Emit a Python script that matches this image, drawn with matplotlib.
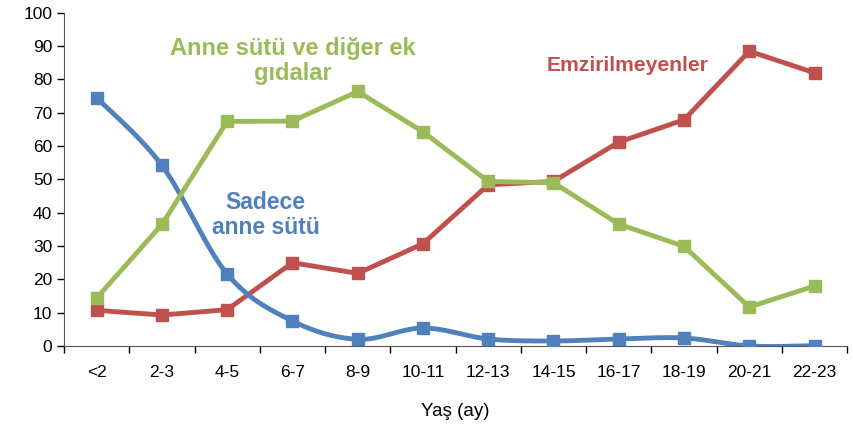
import numpy as np
import matplotlib.pyplot as plt

kategoriler = ['<2', '2-3', '4-5', '6-7', '8-9', '10-11', '12-13', '14-15',
               '16-17', '18-19', '20-21', '22-23']
sadece_anne_sutu = [74.5, 54.2, 21.6, 7.5, 2.0, 5.4, 2.1, 1.5, 2.1, 2.4, 0.0, 0.1]
anne_sutu_ek = [14.4, 36.5, 67.4, 67.5, 76.4, 64.3, 49.4, 49.0, 36.6, 29.9, 11.7, 18.0]
emzirilmeyen = [10.7, 9.3, 10.9, 25.0, 21.8, 30.7, 48.4, 49.4, 61.2, 67.9, 88.5, 82.0]

mavi = '#4F81BD'
yesil = '#9BBB59'
kirmizi = '#C0504D'


def yumusat(x, y, n=30):
    # Excel benzeri pürüzsüz çizgi (Catmull-Rom)
    x = np.asarray(x, float)
    y = np.asarray(y, float)
    px = np.concatenate([[x[0]], x, [x[-1]]])
    py = np.concatenate([[y[0]], y, [y[-1]]])
    xs, ys = [], []
    for i in range(1, len(px) - 2):
        t = np.linspace(0, 1, n)
        p0, p1, p2, p3 = (np.array([px[j], py[j]]) for j in range(i - 1, i + 3))
        c1 = p1 + (p2 - p0) / 6
        c2 = p2 - (p3 - p1) / 6
        pts = ((1 - t) ** 3)[:, None] * p1 + (3 * (1 - t) ** 2 * t)[:, None] * c1 \
            + (3 * (1 - t) * t ** 2)[:, None] * c2 + (t ** 3)[:, None] * p2
        xs.extend(pts[:, 0])
        ys.extend(pts[:, 1])
    return np.array(xs), np.array(ys)


fig = plt.figure(figsize=(8.54, 4.29), dpi=100)
ax = fig.add_axes([0.075, 0.1935, 0.917, 0.7765])

x = np.arange(len(kategoriler))

sx, sy = yumusat(x, sadece_anne_sutu)
ax.plot(sx, sy, color=mavi, lw=3.5, solid_capstyle='round', zorder=3)
ax.plot(x, sadece_anne_sutu, 's', color=mavi, ms=8.5, zorder=4)
ax.plot(x, anne_sutu_ek, '-s', color=yesil, lw=3.5, ms=8.5, zorder=3)
ax.plot(x, emzirilmeyen, '-s', color=kirmizi, lw=3.5, ms=8.5, zorder=2)

ax.set_xlim(-0.5, len(kategoriler) - 0.5)
ax.set_ylim(0, 100)
ax.set_yticks(range(0, 101, 10))
ax.set_xticks(x)
ax.set_xticklabels(kategoriler, family=['Liberation Sans Narrow', 'Liberation Sans'], fontsize=12.5)
ax.set_xticks(np.arange(-0.5, len(kategoriler)), minor=True)
ax.tick_params(axis='x', which='major', length=0, pad=14)
ax.tick_params(axis='x', which='minor', length=5, width=1)
ax.tick_params(axis='y', length=5, width=1, labelsize=12.5)
for lab in ax.get_yticklabels():
    lab.set_family('Liberation Sans')

for s in ['top', 'right']:
    ax.spines[s].set_visible(False)
ax.spines['left'].set_color('#555555')
ax.spines['bottom'].set_color('#555555')

ax.set_xlabel('Yaş (ay)', family=['Liberation Sans Narrow', 'Liberation Sans'],
              fontsize=13.5, labelpad=16)

ax.text(3.0, 85.6, 'Anne sütü ve diğer ek\ngıdalar', color=yesil, fontsize=17,
        fontweight='bold', ha='center', va='center', family='Liberation Sans',
        linespacing=1.12)
ax.text(2.59, 39.3, 'Sadece\nanne sütü', color=mavi, fontsize=16.5,
        fontweight='bold', ha='center', va='center', family='Liberation Sans',
        linespacing=1.08)
ax.text(8.14, 84.1, 'Emzirilmeyenler', color=kirmizi, fontsize=15.2,
        fontweight='bold', ha='center', va='center', family='Liberation Sans')

fig.savefig('out.png', dpi=100)
